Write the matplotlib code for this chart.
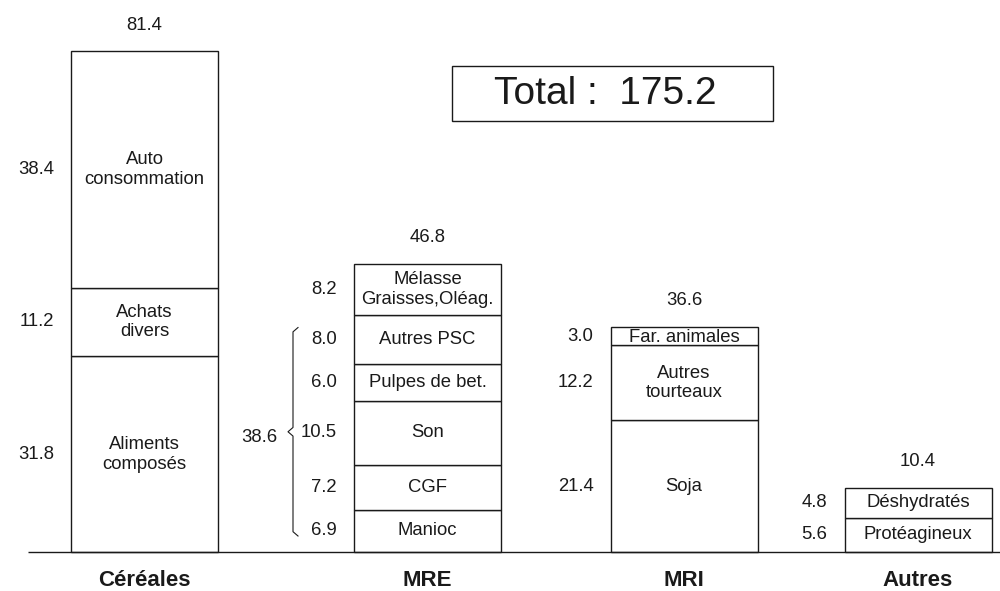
import numpy as np
import matplotlib
matplotlib.use('Agg')
import matplotlib.pyplot as plt
from matplotlib.patches import Rectangle

plt.rcParams['font.family'] = ['Liberation Sans', 'DejaVu Sans']

# data
categories = ['Céréales', 'MRE', 'MRI', 'Autres']
cereales_vals = [31.8, 11.2, 38.4]
cereales_lbl = ['Aliments\ncomposés', 'Achats\ndivers', 'Auto\nconsommation']
mre_vals = [6.9, 7.2, 10.5, 6.0, 8.0, 8.2]
mre_lbl = ['Manioc', 'CGF', 'Son', 'Pulpes de bet.', 'Autres PSC', 'Mélasse\nGraisses,Oléag.']
mri_vals = [21.4, 12.2, 3.0]
mri_lbl = ['Soja', 'Autres\ntourteaux', 'Far. animales']
autres_vals = [5.6, 4.8]
autres_lbl = ['Protéagineux', 'Déshydratés']
totals = [81.4, 46.8, 36.6, 10.4]
grand_total = 175.2
mre_group = 38.6   # sum of the 5 lower MRE items

stacks = [(cereales_vals, cereales_lbl), (mre_vals, mre_lbl),
          (mri_vals, mri_lbl), (autres_vals, autres_lbl)]

# layout (x in pixel-like units)
xpos = [144.5, 427.5, 684, 918]
width = 147
scale = 6.15   # px per unit
base = 552     # baseline pixel from top
ink = '#1a1a1a'
fs = 13.3

fig = plt.figure(figsize=(10, 5.91), dpi=100)
ax = fig.add_axes([0, 0, 1, 1])
ax.set_xlim(0, 1000)
ax.set_ylim(-(591 - base) / scale, base / scale)
ax.axis('off')

for i, (vals, lbls) in enumerate(stacks):
    bottoms = np.concatenate([[0], np.cumsum(vals)[:-1]])
    ax.bar(xpos[i], vals, width=width, bottom=bottoms, color='white',
           edgecolor=ink, linewidth=1.0)
    left = xpos[i] - width / 2
    for v, b, l in zip(vals, bottoms, lbls):
        yc = b + v / 2
        if l == 'Far. animales':
            yc = b + v * 0.4
        ax.text(xpos[i], yc, l, ha='center', va='center', fontsize=fs,
                color=ink, linespacing=1.2)
        ax.text(left - 17, b + v / 2, f'{v:.1f}', ha='right', va='center',
                fontsize=fs, color=ink)
    ax.annotate(f'{totals[i]:.1f}', (xpos[i], sum(vals)), xytext=(0, 19),
                textcoords='offset points', ha='center', va='center',
                fontsize=fs, color=ink)
    ax.text(xpos[i], -4.6, categories[i], ha='center', va='center',
            fontsize=16, fontweight='bold', color=ink)

# baseline
ax.hlines(0, 28, 1000, color=ink, linewidth=1.0)

# brace for the MRE group
y0, y1 = 2.6, 36.5
ym = (y0 + y1) / 2
bx = [298, 293, 293, 288, 293, 293, 298]
by = [y1, y1 - 0.7, ym + 0.7, ym, ym - 0.7, y0 + 0.7, y0]
ax.plot(bx, by, color=ink, linewidth=0.8)
ax.text(277, ym - 1.0, f'{mre_group:.1f}', ha='right', va='center',
        fontsize=fs, color=ink)

# total box
ax.add_patch(Rectangle((452, (base - 121) / scale), 321, 55 / scale,
                       facecolor='white', edgecolor=ink, linewidth=1.0))
ax.text(605, (base - 94) / scale, f'Total :  {grand_total:.1f}',
        ha='center', va='center', fontsize=28, color=ink)

fig.savefig('out.png', dpi=100)
